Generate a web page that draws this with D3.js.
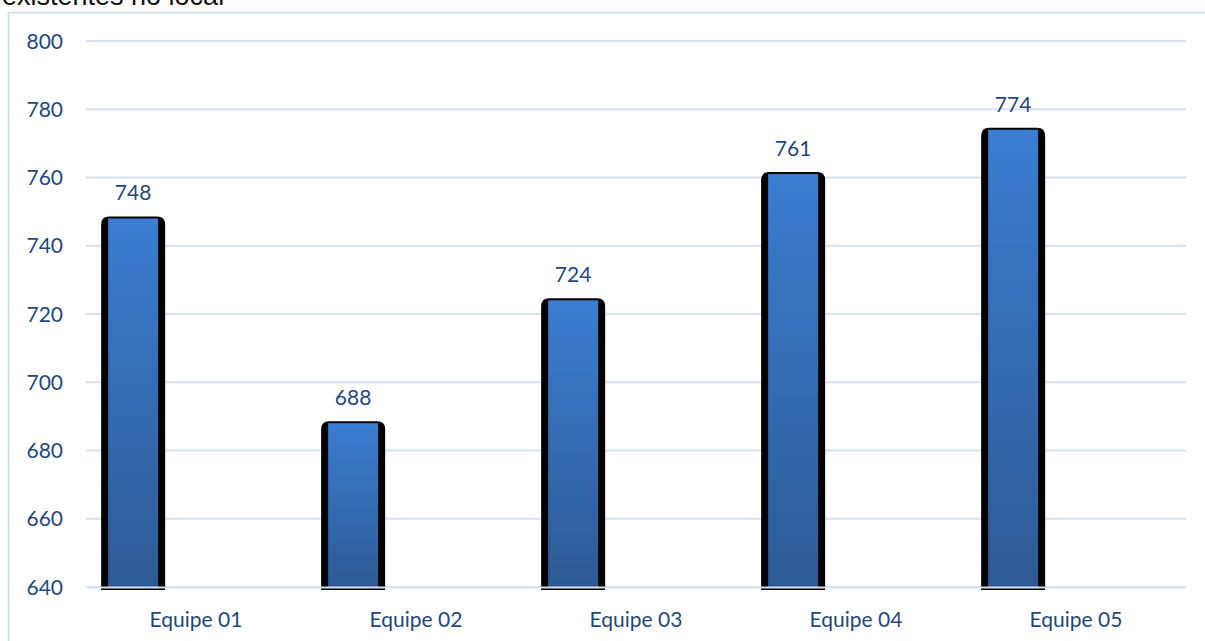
<!DOCTYPE html>
<html>
<head>
<meta charset="utf-8">
<script src="https://cdn.jsdelivr.net/npm/d3@7"></script>
<style>
  html, body { margin: 0; padding: 0; background: #fff; }
  svg { display: block; }
</style>
</head>
<body>
<div id="chart"></div>
<script>
  const width = 1205
  const height = 641
  const padding = {top: 41, right: 19, bottom: 54, left: 86}
  const FONT = 'Lato, "Open Sans", sans-serif'
  const FONT_SIZE = 21
  const TEXT_COLOR = '#1f497d'
  const GRID_COLOR = '#d6e2f2'

  // data
  const titleLine = 'existentes no local'
  const categories = ['Equipe 01', 'Equipe 02', 'Equipe 03', 'Equipe 04', 'Equipe 05']
  const values = [748, 688, 724, 761, 774]
  const yTicks = [640, 660, 680, 700, 720, 740, 760, 780, 800]
  const seriesSlots = ['s1', 's2', 's3'] // only the first slot has a series

  const svg = d3.select('#chart')
    .append('svg')
    .attr('width', width)
    .attr('height', height)

  const defs = svg.append('defs')
  const grad = defs.append('linearGradient')
    .attr('id', 'barGrad')
    .attr('x1', 0).attr('x2', 0).attr('y1', 0).attr('y2', 1)
  grad.append('stop').attr('offset', '0%').attr('stop-color', '#3b7dd0')
  grad.append('stop').attr('offset', '100%').attr('stop-color', '#2d5a94')

  // outer frame (right/bottom sides are off the picture)
  svg.append('rect')
    .attr('x', 8.5).attr('y', 12.5)
    .attr('width', width + 20).attr('height', height + 20)
    .attr('fill', 'none')
    .attr('stroke', '#c8d9ef')
    .attr('stroke-width', 1.5)

  // title line, cropped by the top edge as in the source
  svg.append('text')
    .attr('x', 2).attr('y', 5)
    .attr('font-family', '"Liberation Sans", Arial, sans-serif')
    .attr('font-size', 27)
    .attr('fill', '#111')
    .text(titleLine)

  const x = d3.scaleBand()
    .domain(categories)
    .range([padding.left, width - padding.right])

  const xInner = d3.scaleBand()
    .domain(seriesSlots)
    .range([0, x.bandwidth()])
    .paddingOuter(0.25)

  const y = d3.scaleLinear()
    .domain([640, 800])
    .range([height - padding.bottom, padding.top])

  // gridlines + y labels
  const gY = svg.append('g')
    .selectAll('g.tick_y')
    .data(yTicks)
    .enter()
    .append('g')
    .classed('tick_y', true)
    .attr('transform', d => `translate(0, ${y(d)})`)

  gY.append('line')
    .attr('x1', padding.left).attr('x2', width - padding.right)
    .attr('stroke', GRID_COLOR).attr('stroke-width', 1.8)

  gY.append('text')
    .text(d => d)
    .attr('x', 63)
    .attr('dy', '0.36em')
    .attr('text-anchor', 'end')
    .attr('font-family', FONT)
    .attr('font-size', FONT_SIZE)
    .attr('fill', TEXT_COLOR)

  const barCenter = d => x(d.cat) + xInner('s1') + xInner.bandwidth() / 2
  const data = categories.map((c, i) => ({cat: c, value: values[i]}))
  const y0 = y(640)

  const bars = svg.append('g')
    .selectAll('g.bar')
    .data(data)
    .enter()
    .append('g')
    .classed('bar', true)

  // dark shadow behind the bar
  bars.append('path')
    .attr('d', d => {
      const l = barCenter(d) - 32, r = barCenter(d) + 32
      const t = y(d.value) - 2, b = y0 + 3, rr = 8
      return `M${l},${b}V${t + rr}Q${l},${t} ${l + rr},${t}H${r - rr}Q${r},${t} ${r},${t + rr}V${b}Z`
    })
    .attr('fill', '#000')

  bars.append('rect')
    .attr('x', d => barCenter(d) - 25)
    .attr('width', 50)
    .attr('y', d => y(d.value))
    .attr('height', d => y0 - y(d.value))
    .attr('fill', 'url(#barGrad)')

  bars.append('text')
    .text(d => d.value)
    .attr('x', d => barCenter(d))
    .attr('y', d => y(d.value) - 18)
    .attr('text-anchor', 'middle')
    .attr('font-family', FONT)
    .attr('font-size', FONT_SIZE)
    .attr('fill', TEXT_COLOR)

  // category axis line over the bars
  svg.append('line')
    .attr('x1', padding.left).attr('x2', width - padding.right)
    .attr('y1', y0 + 0.5).attr('y2', y0 + 0.5)
    .attr('stroke', GRID_COLOR).attr('stroke-width', 2)

  svg.append('g')
    .selectAll('text.cat')
    .data(categories)
    .enter()
    .append('text')
    .classed('cat', true)
    .text(d => d)
    .attr('x', d => x(d) + x.bandwidth() / 2)
    .attr('y', 627)
    .attr('text-anchor', 'middle')
    .attr('font-family', FONT)
    .attr('font-size', FONT_SIZE)
    .attr('fill', TEXT_COLOR)
</script>
</body>
</html>
